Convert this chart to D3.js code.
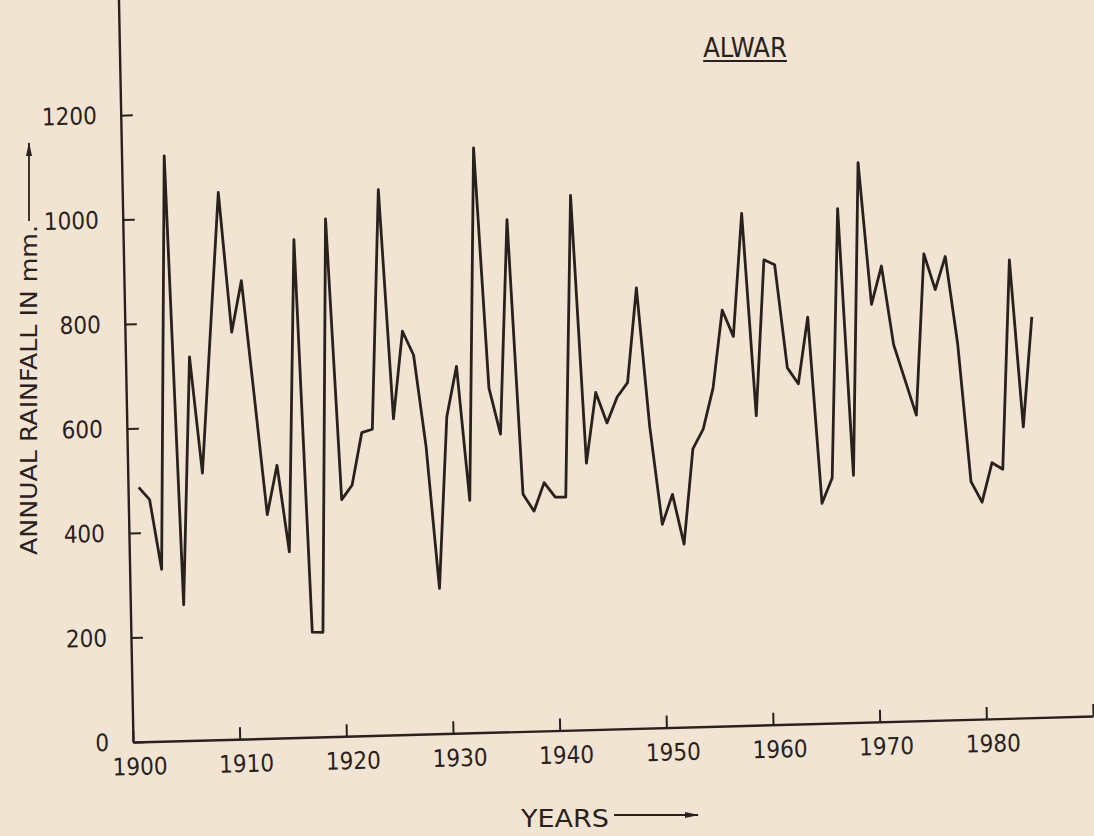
<!DOCTYPE html>
<html>
<head>
<meta charset="utf-8">
<script src="https://cdn.jsdelivr.net/npm/d3@7"></script>
<style>
  body { margin: 0; background: #f1e4d3; }
  svg { display: block; }
</style>
</head>
<body>
<div id="chart"></div>
<script>
// Annual rainfall at Alwar
const years = [
  1901, 1902, 1903, 1904, 1905, 1906, 1907, 1908, 1909, 1910,
  1911, 1912, 1913, 1914, 1915, 1916, 1917, 1918, 1919, 1920,
  1921, 1922, 1923, 1924, 1925, 1926, 1927, 1928, 1929, 1930,
  1931, 1932, 1933, 1934, 1935, 1936, 1937, 1938, 1939, 1940,
  1941, 1942, 1943, 1944, 1945, 1946, 1947, 1948, 1949, 1950,
  1951, 1952, 1953, 1954, 1955, 1956, 1957, 1958, 1959, 1960,
  1961, 1962, 1963, 1964, 1965, 1966, 1967, 1968, 1969, 1970,
  1971, 1972, 1973, 1974, 1975, 1976, 1977, 1978, 1979, 1980,
  1981, 1982, 1983, 1984, 1985
];
const rainfall = [
  487, 463, 329, 1120, 260, 734, 511, 780, 1047, 779,
  877, 655, 428, 522, 356, 953, 201, 200, 991, 453,
  480, 580, 586, 1044, 605, 772, 726, 551, 278, 606,
  702, 445, 1119, 659, 570, 980, 454, 421, 475, 447,
  446, 1023, 510, 645, 586, 635, 662, 843, 576, 389,
  446, 350, 532, 569, 647, 796, 745, 980, 592, 890,
  880, 682, 651, 778, 421, 469, 984, 473, 1071, 799,
  872, 721, 653, 585, 893, 824, 887, 720, 455, 415,
  490, 477, 877, 557, 767
];
const yearTicks = [1900, 1910, 1920, 1930, 1940, 1950, 1960, 1970, 1980, 1990];
const rainTicks = [0, 200, 400, 600, 800, 1000, 1200];

const width = 1094;
const height = 836;
const ink = "#2b211c";
const paper = "#f1e4d3";
const font = '"Liberation Sans Narrow", "DejaVu Sans Condensed", Roboto, sans-serif';

const origin = { x: 133, y: 742 };
// the scanned sheet is a little skewed: x axis climbs, y axis leans left
const skew = { x: -0.027, y: 0.0196 };

const svg = d3.select("#chart")
    .append("svg")
    .attr("width", width)
    .attr("height", height);

svg.append("rect")
    .attr("width", width)
    .attr("height", height)
    .attr("fill", paper);

// arrowhead for the axis-title arrows
const defs = svg.append("defs");
defs.append("marker")
    .attr("id", "arrow")
    .attr("viewBox", "0 0 14 8")
    .attr("refX", 13).attr("refY", 4)
    .attr("markerWidth", 14).attr("markerHeight", 8)
    .attr("markerUnits", "userSpaceOnUse")
    .attr("orient", "auto")
  .append("path")
    .attr("d", "M0,1L14,4L0,7Z")
    .attr("fill", ink);

const plot = svg.append("g")
    .attr("transform", `matrix(1,${skew.x},${skew.y},1,${origin.x},${origin.y})`);

const xScale = d3.scaleLinear().domain([1900, 1990]).range([0, 960]);
const yScale = d3.scaleLinear().domain([0, 1430]).range([0, -747]);

const xAxis = plot.append("g")
    .call(d3.axisBottom(xScale)
        .tickValues(yearTicks)
        .tickSizeInner(-12)
        .tickSizeOuter(0)
        .tickPadding(16)
        .tickFormat(d => d === 1990 ? "" : d));

const yAxis = plot.append("g")
    .call(d3.axisLeft(yScale)
        .tickValues(rainTicks)
        .tickSizeInner(-12)
        .tickSizeOuter(0)
        .tickPadding(24)
        .tickFormat(d3.format("d")));

[xAxis, yAxis].forEach(ax => {
    ax.attr("font-family", null).attr("font-size", null);
    ax.select(".domain").attr("stroke", ink).attr("stroke-width", 2.4);
    ax.selectAll(".tick line").attr("stroke", ink).attr("stroke-width", 2);
    ax.selectAll(".tick text")
        .attr("fill", ink)
        .style("font-family", font)
        .style("font-size", "24px");
});
xAxis.selectAll(".tick text").attr("dx", 6);

const line = d3.line()
    .x((d, i) => xScale(years[i]))
    .y(d => yScale(d));

plot.append("path")
    .datum(rainfall)
    .attr("d", line)
    .attr("fill", "none")
    .attr("stroke", ink)
    .attr("stroke-width", 2.8)
    .attr("stroke-linejoin", "round");

// title, underlined
const title = svg.append("text")
    .attr("x", 745).attr("y", 57)
    .attr("text-anchor", "middle")
    .attr("fill", ink)
    .style("font-family", font)
    .style("font-size", "27px")
    .text("ALWAR");
const tb = title.node().getBBox();
svg.append("line")
    .attr("x1", tb.x).attr("x2", tb.x + tb.width)
    .attr("y1", 61).attr("y2", 61)
    .attr("stroke", ink).attr("stroke-width", 2);

// axis titles with their arrows
svg.append("text")
    .attr("transform", "translate(37,390) rotate(-90)")
    .attr("text-anchor", "middle")
    .attr("fill", ink)
    .attr("textLength", 330)
    .attr("lengthAdjust", "spacingAndGlyphs")
    .style("font-family", font)
    .style("font-size", "23px")
    .text("ANNUAL RAINFALL IN mm.");
svg.append("line")
    .attr("x1", 29).attr("y1", 221)
    .attr("x2", 29).attr("y2", 143)
    .attr("stroke", ink).attr("stroke-width", 1.8)
    .attr("marker-end", "url(#arrow)");

svg.append("text")
    .attr("x", 565).attr("y", 827)
    .attr("text-anchor", "middle")
    .attr("fill", ink)
    .attr("textLength", 88)
    .attr("lengthAdjust", "spacingAndGlyphs")
    .style("font-family", font)
    .style("font-size", "25px")
    .text("YEARS");
svg.append("line")
    .attr("x1", 614).attr("y1", 815)
    .attr("x2", 698).attr("y2", 815)
    .attr("stroke", ink).attr("stroke-width", 1.8)
    .attr("marker-end", "url(#arrow)");
</script>
</body>
</html>
